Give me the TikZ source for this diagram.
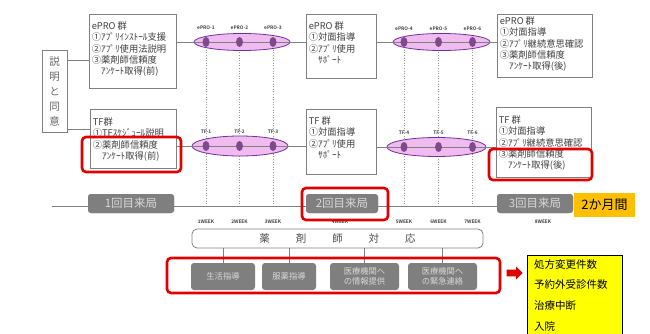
\documentclass[tikz,border=0pt]{standalone}
\usepackage{fontspec}
\setmainfont{Noto Sans CJK JP}[BoldFont={Noto Sans CJK JP Bold}]
\usetikzlibrary{shapes.geometric,shapes.arrows,calc}
\definecolor{txt}{HTML}{404040}
\definecolor{bord}{HTML}{808080}
\definecolor{ellb}{HTML}{7030A0}
\definecolor{ellf}{HTML}{F0BCF0}
\definecolor{dotc}{HTML}{7E4A8C}
\definecolor{visg}{HTML}{7F7F7F}
\definecolor{vist}{HTML}{D9D9D9}
\definecolor{redc}{HTML}{E00000}
\definecolor{orng}{HTML}{FFC000}
\definecolor{ylw}{HTML}{FFFF00}
\begin{document}
\begin{tikzpicture}[x=1pt,y=-1pt,
  pbox/.style={draw=bord, line width=0.8pt, fill=white, inner sep=0pt},
  btxt/.style={anchor=north west, align=left, inner sep=0pt, text=txt, font=\fontsize{9.3}{11.3}\selectfont},
  pell/.style={ellipse, draw=ellb, fill=ellf, line width=0.8pt, inner sep=0pt},
  pdot/.style={ellipse, fill=dotc, minimum width=7pt, minimum height=10pt, inner sep=0pt},
  lbl/.style={font=\fontsize{4.8}{5}\selectfont\bfseries, text=txt, inner sep=0pt},
  conn/.style={draw=bord, line width=0.8pt},
  dotl/.style={draw=black!40, dotted, line width=0.6pt},
  visit/.style={fill=visg, rounded corners=3pt, text=vist, font=\fontsize{11.5}{12}\selectfont, inner sep=0pt},
  gbox/.style={fill=visg, rounded corners=3pt, text=vist, align=center, font=\fontsize{8.3}{10}\selectfont, inner sep=0pt, minimum height=27pt},
  redbox/.style={draw=redc, line width=2.6pt, rounded corners=4pt, inner sep=0pt}
]
\useasboundingbox (0,0) rectangle (650,334);
\clip (0,0) rectangle (650,334);
\fill[white] (0,0) rectangle (650,334);

% consent box
\node[pbox, minimum width=25pt, minimum height=82pt] (consent) at (54.5,91) {};
\node[align=center, inner sep=0pt, text=black!60, font=\fontsize{10.5}{15}\selectfont] (ctext) at (consent) {説\\明\\と\\同\\意};
\coordinate (c1) at (67,60);
\coordinate (c2) at (67,129);

% boxes
\node[pbox, minimum width=87pt, minimum height=74pt] (e1) at (132.5,51) {};
\node[pbox, minimum width=70pt, minimum height=64pt] (e2) at (341,46) {};
\node[pbox, minimum width=95pt, minimum height=63pt] (e3) at (544.5,45.5) {};
\node[pbox, minimum width=86pt, minimum height=59pt] (t1) at (133,138.5) {};
\node[pbox, minimum width=70pt, minimum height=65pt] (t2) at (341,141.5) {};
\node[pbox, minimum width=95pt, minimum height=70pt] (t3) at (543.5,142) {};

\draw[conn] (c1) -- (c1 -| e1.west);
\draw[conn] (c2) -- (c2 -| t1.west);

% timeline
\coordinate (tl) at (52,206);

% dots and dotted lines
\foreach \n/\x in {1/206,2/239.5,3/273,4/404,5/438.5,6/472.5}{
  \coordinate (dx\n) at (\x,42);
  \draw[dotl] (dx\n) -- (dx\n |- tl);
}

% ellipses
\node[pell, minimum width=96pt, minimum height=17pt] (el1) at (242,42) {};
\node[pell, minimum width=97pt, minimum height=17pt] (el2) at (441.5,42) {};
\node[pell, minimum width=96pt, minimum height=20pt] (tl1) at (240,146) {};
\node[pell, minimum width=99pt, minimum height=19pt] (tl2) at (436.5,147) {};

\draw[conn] (e1.east |- el1.center) -- (e2.west |- el1.center);
\draw[conn] (e2.east |- el2.center) -- (e3.west |- el2.center);
\draw[conn] (t1.east |- tl1.center) -- (t2.west |- tl1.center);
\draw[conn] (t2.east |- tl2.center) -- (t3.west |- tl2.center);

\foreach \n in {1,2,3}{
  \node[pdot] (pd\n) at (dx\n |- el1.center) {};
  \node[pdot] (td\n) at (dx\n |- tl1.center) {};
  \node[lbl] (pl\n) at (dx\n |- 0,28) {ePRO-\n};
  \node[lbl] (tlb\n) at (dx\n |- 0,132) {TF-\n};
}
\foreach \n in {4,5,6}{
  \node[pdot] (pd\n) at (dx\n |- el2.center) {};
  \node[pdot] (td\n) at (dx\n |- tl2.center) {};
  \node[lbl] (pl\n) at (dx\n |- 0,29) {ePRO-\n};
  \node[lbl] (tlb\n) at (dx\n |- 0,133) {TF-\n};
}

% box texts
\node[btxt] (e1t) at ($(e1.north west)+(3,8)$) {ePRO 群\\①ｱﾌﾟﾘｲﾝｽﾄｰﾙ支援\\②ｱﾌﾟﾘ使用法説明\\③薬剤師信頼度\\\hspace*{1em}ｱﾝｹｰﾄ取得(前)};
\node[btxt] (e2t) at ($(e2.north west)+(3,8)$) {ePRO 群\\①対面指導\\②ｱﾌﾟﾘ使用\\\hspace*{1em}ｻﾎﾟｰﾄ};
\node[btxt] (e3t) at ($(e3.north west)+(3,3)$) {ePRO 群\\①対面指導\\②ｱﾌﾟﾘ継続意思確認\\③薬剤師信頼度\\\hspace*{1em}ｱﾝｹｰﾄ取得(後)};
\node[btxt] (t1t) at ($(t1.north west)+(3,9)$) {TF群\\①TFｽｹｼﾞｭｰﾙ説明\\②薬剤師信頼度\\\hspace*{1em}ｱﾝｹｰﾄ取得(前)};
\node[btxt] (t2t) at ($(t2.north west)+(3,8)$) {TF 群\\①対面指導\\②ｱﾌﾟﾘ使用\\\hspace*{1em}ｻﾎﾟｰﾄ};
\node[btxt] (t3t) at ($(t3.north west)+(3,9)$) {TF 群\\①対面指導\\②ｱﾌﾟﾘ継続意思確認\\③薬剤師信頼度\\\hspace*{1em}ｱﾝｹｰﾄ取得(後)};

% visits
\node[visit, minimum width=86pt, minimum height=19pt] (v1) at (131,203.5) {};
\node[visit, minimum width=72pt, minimum height=19pt] (v2) at (342,203.5) {};
\node[visit, minimum width=76pt, minimum height=19pt] (v3) at (535,203.5) {};
\draw[conn] (tl) -- (tl -| v3.west);
\node[visit, minimum width=86pt, minimum height=19pt] (v1b) at (v1) {1回目来局};
\node[visit, minimum width=72pt, minimum height=19pt] (v2b) at (v2) {2回目来局};
\node[visit, minimum width=76pt, minimum height=19pt] (v3b) at (v3) {3回目来局};
\node[fill=orng, minimum width=61pt, minimum height=24pt, inner sep=0pt, font=\fontsize{13}{14}\selectfont] (two) at (604.5,205) {2か月間};

% weeks
\foreach \n/\x in {1/206,2/239.5,3/273,4/340,5/404,6/438.5,7/472.5,8/543}{
  \node[lbl] (w\n) at (\x,222) {\n WEEK};
}

% pharmacist box
\node[draw=bord, line width=0.8pt, rounded corners=5pt, minimum width=291pt, minimum height=19pt, inner sep=0pt, text=black!70, font=\fontsize{10.5}{12}\selectfont] (ph) at (337.5,238.5) {薬\hspace{26pt}剤\hspace{26pt}師\hspace{26pt}対\hspace{26pt}応};

\node[gbox, minimum width=64pt] (g1) at (223,276.5) {生活指導};
\node[gbox, minimum width=54pt] (g2) at (289,276.5) {服薬指導};
\node[gbox, minimum width=69pt] (g3) at (364.5,276.5) {医療機関へ\\の情報提供};
\node[gbox, minimum width=69pt] (g4) at (442.5,276.5) {医療機関へ\\の緊急連絡};
\foreach \n in {1,2,3,4}{
  \draw[conn, line width=0.6pt] (ph.south -| g\n.north) -- (g\n.north);
}

% red boxes
\node[redbox, minimum width=86pt, minimum height=32pt] (r2) at (345,204) {};
\node[redbox, minimum width=99pt, minimum height=35pt] (r1) at (131.5,154.5) {};
\node[redbox, minimum width=103pt, minimum height=31pt] (r3) at (540.5,164.5) {};
\node[redbox, minimum width=333pt, minimum height=35pt] (r4) at (333.5,275.5) {};

% arrow
\node[single arrow, fill=redc, minimum height=16pt, minimum width=13pt, single arrow head extend=2.5pt, inner sep=2.5pt] (arr) at (513,273) {};

% yellow box
\node[draw=black, line width=0.8pt, fill=ylw, minimum width=95pt, minimum height=90pt, anchor=north west, inner sep=0pt] (yb) at (527,255) {};
\node[anchor=north west, align=left, inner sep=0pt, font=\fontsize{10.5}{20.7}\selectfont] (ybt) at ($(yb.north west)+(7,4)$) {処方変更件数\\予約外受診件数\\治療中断\\入院};
\end{tikzpicture}
\end{document}
